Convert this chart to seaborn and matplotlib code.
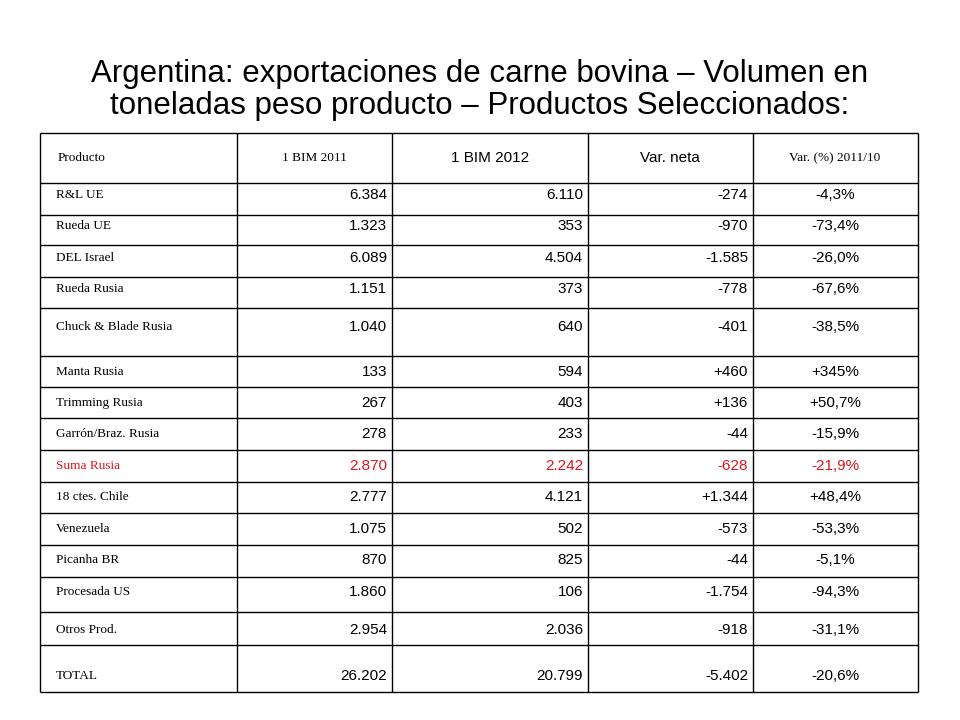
import matplotlib
matplotlib.use("Agg")
import matplotlib.pyplot as plt
import seaborn as sns

sns.set_style("white")
plt.rcParams["text.color"] = "black"

title = "Argentina: exportaciones de carne bovina – Volumen en\ntoneladas peso producto – Productos Seleccionados:"
headers = ["Producto", "1 BIM 2011", "1 BIM 2012", "Var. neta", "Var. (%) 2011/10"]
productos = ["R&L UE", "Rueda UE", "DEL Israel", "Rueda Rusia", "Chuck & Blade Rusia",
             "Manta Rusia", "Trimming Rusia", "Garrón/Braz. Rusia", "Suma Rusia",
             "18 ctes. Chile", "Venezuela", "Picanha BR", "Procesada US", "Otros Prod.", "TOTAL"]
bim_2011 = ["6.384", "1.323", "6.089", "1.151", "1.040", "133", "267", "278", "2.870",
            "2.777", "1.075", "870", "1.860", "2.954", "26.202"]
bim_2012 = ["6.110", "353", "4.504", "373", "640", "594", "403", "233", "2.242",
            "4.121", "502", "825", "106", "2.036", "20.799"]
var_neta = ["-274", "-970", "-1.585", "-778", "-401", "+460", "+136", "-44", "-628",
            "+1.344", "-573", "-44", "-1.754", "-918", "-5.402"]
var_pct = ["-4,3%", "-73,4%", "-26,0%", "-67,6%", "-38,5%", "+345%", "+50,7%", "-15,9%",
           "-21,9%", "+48,4%", "-53,3%", "-5,1%", "-94,3%", "-31,1%", "-20,6%"]

col_x = [40, 237, 392, 588, 753, 918]
row_y = [133, 183, 215, 245, 277, 308, 356, 387, 418, 450, 482, 513, 545, 577, 612, 645, 692]
text_y = [195, 226, 258, 289, 327, 372, 403, 434, 466, 497, 529, 560, 592, 630, 676]

fig = plt.figure(figsize=(9.6, 7.2), dpi=100)
ax = fig.add_axes([0, 0, 1, 1])
ax.set_xlim(0, 960)
ax.set_ylim(720, 0)
ax.axis("off")

ax.text(480, 90, title, ha="center", va="center", fontsize=22.5,
        family="Liberation Sans", linespacing=1.12, color="black")

ax.hlines(row_y, col_x[0], col_x[-1], color="black", lw=1)
ax.vlines(col_x, row_y[0], row_y[-1], color="black", lw=1)

hy = 158
ax.text(58, hy, headers[0], ha="left", va="center", fontsize=9.5, family="Liberation Serif")
ax.text(314, hy, headers[1], ha="center", va="center", fontsize=9.5, family="Liberation Serif")
ax.text(490, hy, headers[2], ha="center", va="center", fontsize=11, family="Liberation Sans")
ax.text(670, hy, headers[3], ha="center", va="center", fontsize=11, family="Liberation Sans")
ax.text(835, hy, headers[4], ha="center", va="center", fontsize=9.5, family="Liberation Serif")

for i, y in enumerate(text_y):
    c = "#e0141e" if productos[i] == "Suma Rusia" else "black"
    ax.text(56, y, productos[i], ha="left", va="center", fontsize=9.5,
            family="Liberation Serif", color=c)
    ax.text(col_x[2] - 5, y, bim_2011[i], ha="right", va="center", fontsize=11,
            family="Liberation Sans", color=c)
    ax.text(col_x[3] - 5, y, bim_2012[i], ha="right", va="center", fontsize=11,
            family="Liberation Sans", color=c)
    ax.text(col_x[4] - 5, y, var_neta[i], ha="right", va="center", fontsize=11,
            family="Liberation Sans", color=c)
    ax.text(835, y, var_pct[i], ha="center", va="center", fontsize=11,
            family="Liberation Sans", color=c)

fig.savefig("out.png", dpi=100)
